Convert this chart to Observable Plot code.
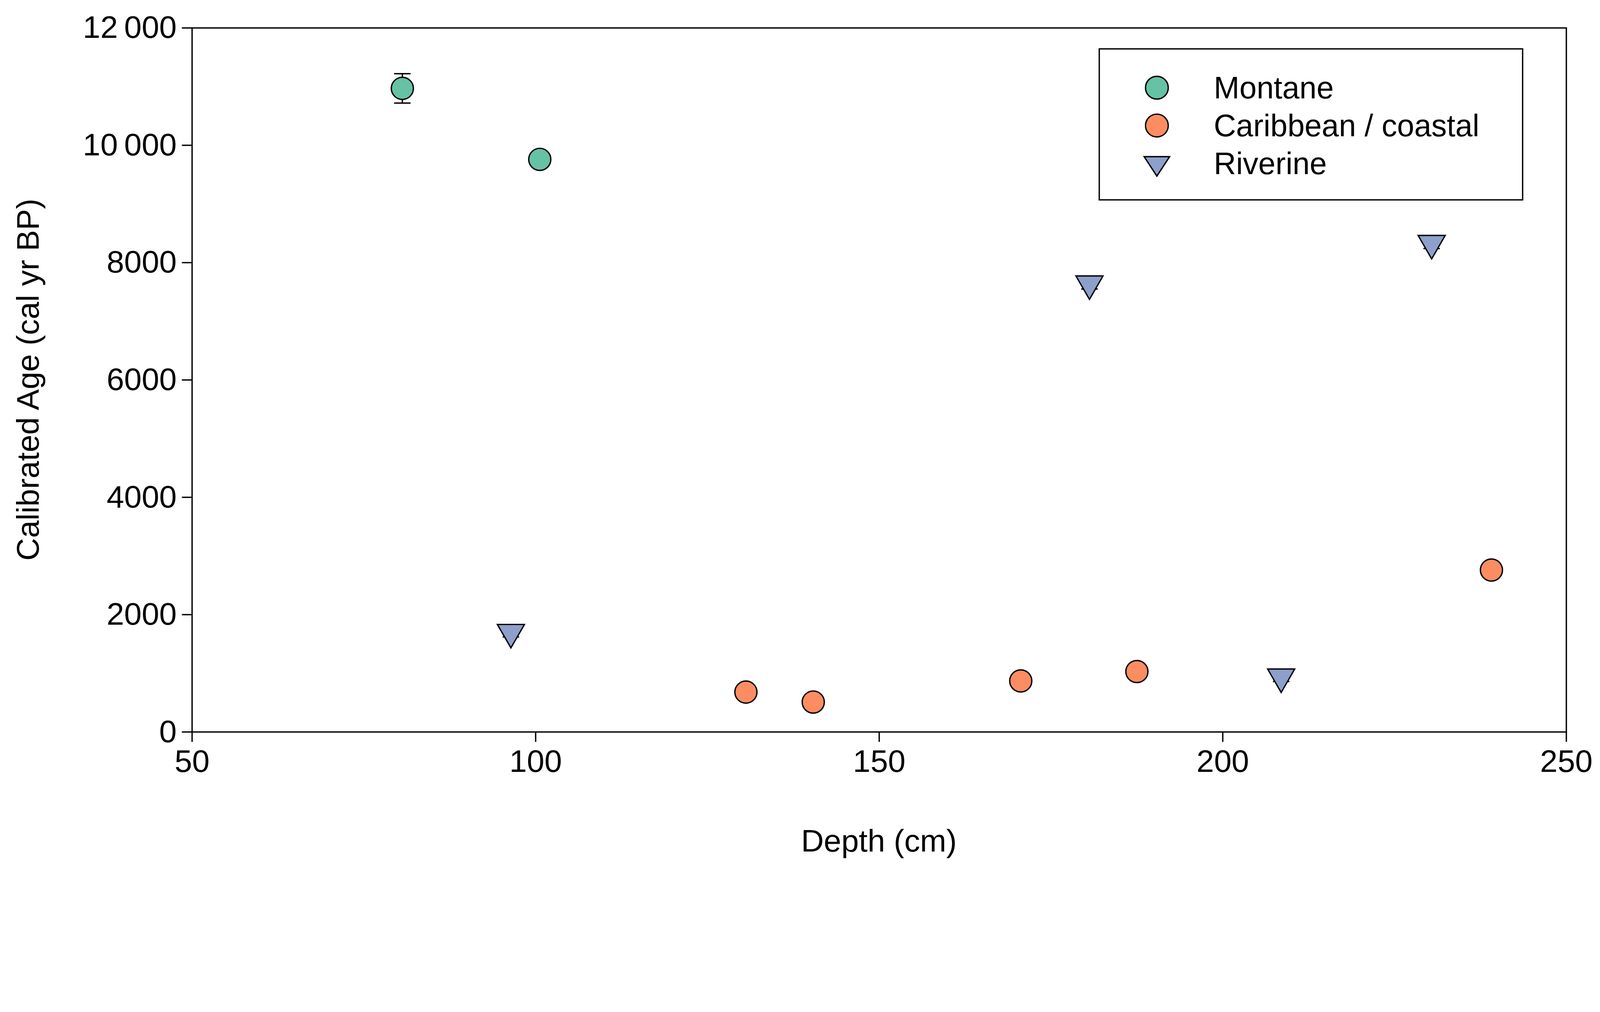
<!DOCTYPE html>
<html><head><meta charset="utf-8">
<script src="https://cdn.jsdelivr.net/npm/d3@7"></script>
<script src="https://cdn.jsdelivr.net/npm/@observablehq/plot@0.6"></script>
<style>
html,body{margin:0;padding:0;background:#fff;overflow:hidden;font-family:Arial,"Liberation Sans",sans-serif;}
#wrap{position:absolute;left:0;top:0;width:4777px;height:2592px;transform-origin:0 0;background:#fff;}
#legend{position:absolute;left:3280px;top:144px;width:1268px;height:455px;border:4px solid #000;box-sizing:border-box;background:#fff;font-size:92px;}
.row{position:absolute;left:0;height:100px;}
.row span{position:absolute;left:340px;white-space:nowrap;line-height:100px;top:0;}
.lab{position:absolute;font-size:94px;white-space:nowrap;}
</style></head><body>
<div id="wrap"></div>
<script>
const groups = ["Montane","Caribbean / coastal","Riverine"];
const colors = ["#66c2a5","#fc8d62","#8da0cb"];
const symbols = ["circle","circle","triangle"];
const depth = [80.6,100.6, 130.6,140.4,170.6,187.5,239.1, 96.4,180.6,208.5,230.4];
const age   = [10970,9760, 680,510,870,1030,2760, 1700,7640,940,8330];
const err   = [250,120, 60,60,60,60,60, 80,90,80,90];
const group = ["Montane","Montane","Caribbean / coastal","Caribbean / coastal","Caribbean / coastal","Caribbean / coastal","Caribbean / coastal","Riverine","Riverine","Riverine","Riverine"];
const yTicks = [0,2000,4000,6000,8000,10000,12000];
const xTicks = [50,100,150,200,250];

const data = depth.map((x,i)=>({x,y:age[i],e:err[i],g:group[i]}));
const fmt = d => d>=10000 ? String(Math.floor(d/1000))+"\u2009"+String(d%1000).padStart(3,"0") : String(d);

const plot = Plot.plot({
  width:4777, height:2592,
  marginLeft:573, marginRight:101, marginTop:83, marginBottom:406,
  style:{fontSize:"94px",fontFamily:"Arial, 'Liberation Sans', sans-serif",color:"#000",background:"#fff",maxWidth:"none"},
  x:{domain:[50,250],ticks:xTicks,tickSize:30,tickPadding:22,label:null},
  y:{domain:[0,12000],ticks:yTicks,tickSize:30,tickPadding:16,tickFormat:fmt,label:null},
  color:{domain:groups,range:colors},
  symbol:{domain:groups,range:symbols},
  marks:[
    Plot.frame({stroke:"#000",strokeWidth:4}),
    Plot.ruleX(data,{x:"x",y1:d=>d.y-d.e,y2:d=>d.y+d.e,stroke:"#000",strokeWidth:4}),
    Plot.link(data,{x1:d=>d.x-1.2,x2:d=>d.x+1.2,y1:d=>d.y-d.e,y2:d=>d.y-d.e,stroke:"#000",strokeWidth:4}),
    Plot.link(data,{x1:d=>d.x-1.2,x2:d=>d.x+1.2,y1:d=>d.y+d.e,y2:d=>d.y+d.e,stroke:"#000",strokeWidth:4}),
    Plot.dot(data.filter(d=>d.g!=="Riverine"),{x:"x",y:"y",fill:"g",symbol:"g",r:33,stroke:"#000",strokeWidth:4}),
    Plot.dot(data.filter(d=>d.g==="Riverine"),{x:"x",y:"y",fill:"g",symbol:"g",r:30,rotate:180,stroke:"#000",strokeWidth:4})
  ]
});
plot.style.position="absolute";plot.style.left="0";plot.style.top="0";
const wrap=document.getElementById("wrap");
wrap.appendChild(plot);
d3.select(plot).selectAll("[aria-label$='axis'] path, [aria-label*='tick'] path").attr("stroke-width",4);

const xl=document.createElement("div");xl.className="lab";xl.textContent="Depth (cm)";
xl.style.left="2624px";xl.style.top="2512px";xl.style.transform="translate(-50%,-50%)";wrap.appendChild(xl);
const yl=document.createElement("div");yl.className="lab";yl.textContent="Calibrated Age (cal yr BP)";
yl.style.left="83px";yl.style.top="1134px";yl.style.transform="translate(-50%,-50%) rotate(-90deg)";wrap.appendChild(yl);

const leg=document.createElement("div");leg.id="legend";
groups.forEach((g,i)=>{
  const r=document.createElement("div");r.className="row";r.style.top=(64+i*113)+"px";
  const sym = symbols[i]==="circle"
    ? `<circle cx="50" cy="50" r="34" fill="${colors[i]}" stroke="#000" stroke-width="4"/>`
    : `<path d="M12,30 L88,30 L50,88 Z" fill="${colors[i]}" stroke="#000" stroke-width="4"/>`;
  r.innerHTML=`<svg width="100" height="100" style="position:absolute;left:120px;top:0">${sym}</svg><span>${g}</span>`;
  leg.appendChild(r);
});
wrap.appendChild(leg);

function fit(){const s=Math.min(window.innerWidth/4777,window.innerHeight/2592);wrap.style.transform=`scale(${s})`;}
fit();window.addEventListener("resize",fit);
</script></body></html>
